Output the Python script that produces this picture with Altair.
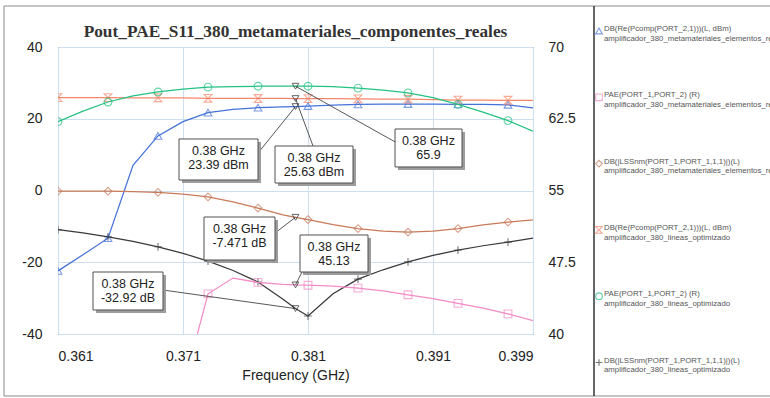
import altair as alt
import pandas as pd

# ---------------------------------------------------------------- data
FREQ = [0.361, 0.363, 0.365, 0.367, 0.369, 0.371, 0.373, 0.375, 0.377, 0.379,
        0.380, 0.381, 0.383, 0.385, 0.387, 0.389, 0.391, 0.393, 0.395, 0.397, 0.399]
MARKER_FREQ = [0.361, 0.365, 0.369, 0.373, 0.377, 0.381, 0.385, 0.389, 0.393, 0.397]

# Output power (dBm), metamaterial amplifier
POUT_META = [-22.4, -17.9, -13.3, 7.0, 15.2, 19.2, 21.7, 22.6, 23.1, 23.3,
             23.39, 23.55, 23.8, 24.0, 24.1, 24.1, 24.1, 24.0, 24.0, 23.9, 23.0]
# PAE (%), metamaterial amplifier
PAE_META = [None, None, None, None, None, 34.3, 44.2, 45.85, 45.4, 45.2,
            45.13, 45.1, 45.0, 44.8, 44.5, 44.1, 43.7, 43.2, 42.7, 42.1, 41.4]
# S11 (dB), metamaterial amplifier
S11_META = [-0.2, -0.2, -0.2, -0.3, -0.5, -1.0, -1.8, -3.2, -4.9, -6.8,
            -7.471, -8.1, -9.5, -10.6, -11.3, -11.6, -11.3, -10.6, -9.6, -8.8, -8.2]
# Output power (dBm), optimised-line amplifier
POUT_OPT = [25.9, 25.9, 25.9, 25.85, 25.85, 25.8, 25.7, 25.7, 25.65, 25.65,
            25.63, 25.6, 25.6, 25.55, 25.5, 25.45, 25.3, 25.2, 25.2, 25.15, 25.1]
# PAE (%), optimised-line amplifier
PAE_OPT = [62.2, 63.3, 64.25, 64.9, 65.3, 65.6, 65.8, 65.85, 65.9, 65.9,
           65.9, 65.9, 65.85, 65.7, 65.5, 65.2, 64.7, 64.0, 63.2, 62.3, 61.2]
# S11 (dB), optimised-line amplifier
S11_OPT = [-10.9, -11.8, -12.9, -14.2, -15.7, -17.5, -19.7, -22.3, -25.5, -30.3,
           -32.92, -35.0, -28.8, -24.7, -22.1, -19.9, -18.1, -16.6, -15.4, -14.4, -13.3]

SERIES = [
    "DB(Re(Pcomp(PORT_2,1)))(L, dBm)\namplificador_380_metamateriales_elementos_reales",
    "PAE(PORT_1,PORT_2) (R)\namplificador_380_metamateriales_elementos_reales",
    "DB(|LSSnm(PORT_1,PORT_1,1,1)|)(L)\namplificador_380_metamateriales_elementos_reales",
    "DB(Re(Pcomp(PORT_2,1)))(L, dBm)\namplificador_380_lineas_optimizado",
    "PAE(PORT_1,PORT_2) (R)\namplificador_380_lineas_optimizado",
    "DB(|LSSnm(PORT_1,PORT_1,1,1)|)(L)\namplificador_380_lineas_optimizado",
]
VALUES = [POUT_META, PAE_META, S11_META, POUT_OPT, PAE_OPT, S11_OPT]
SIDE = ["left", "right", "left", "left", "right", "left"]

COLORS = ["#4472d9", "#f48ac6", "#c87a5a", "#f6866a", "#24c282", "#3a3a3a"]
HOURGLASS = "M-1,-1L1,-1L-1,1L1,1Z"
CROSS = "M-1,0L1,0M0,-1L0,1"
SHAPES = ["triangle-up", "square", "diamond", HOURGLASS, "circle", CROSS]

X_TICKS = [0.361, 0.371, 0.381, 0.391, 0.399]
LEFT_TICKS = [-40, -20, 0, 20, 40]
RIGHT_TICKS = [40, 47.5, 55, 62.5, 70]

# Marker read-outs at 0.38 GHz: series index, value, unit
MARK_FREQ = 0.38
MARK_SERIES = [0, 3, 4, 2, 1, 5]
MARK_VALUE = [23.39, 25.63, 65.9, -7.471, 45.13, -32.92]
MARK_UNIT = ["dBm", "dBm", "", "dB", "", "dB"]
# Callout boxes in axis units: (left, right) frequency, (top, bottom) value
BOX_F = [(0.37068, 0.37700), (0.37836, 0.38460), (0.38796, 0.39332),
         (0.37268, 0.37836), (0.38036, 0.38580), (0.36380, 0.36940)]
BOX_V = [(14.36, 2.93), (12.40, 2.09), (61.43, 57.46),
         (-7.39, -19.37), (50.35, 46.48), (-22.72, -33.31)]
LEAD_FROM = [(0.37700, 10.45), (0.38140, 12.40), (0.38812, 59.97),
             (0.37836, -11.85), (0.38052, 46.48), (0.36940, -27.74)]

# ---------------------------------------------------------------- tables
rows = []
for name, side, vals in zip(SERIES, SIDE, VALUES):
    for f, v in zip(FREQ, vals):
        if v is not None:
            rows.append({"freq": f, "value": v, "series": name, "side": side})
df = pd.DataFrame(rows)
df_marks = df[df["freq"].isin(MARKER_FREQ)]

ann_rows = []
for i, s in enumerate(MARK_SERIES):
    v = MARK_VALUE[i]
    unit = (" " + MARK_UNIT[i]) if MARK_UNIT[i] else ""
    ann_rows.append({
        "freq": MARK_FREQ, "value": v, "side": SIDE[s],
        "label": f"{MARK_FREQ} GHz\n{v}{unit}",
        "bl": BOX_F[i][0], "br": BOX_F[i][1], "cx": (BOX_F[i][0] + BOX_F[i][1]) / 2,
        "bt": BOX_V[i][0], "bb": BOX_V[i][1],
        "lf": LEAD_FROM[i][0], "lv": LEAD_FROM[i][1],
    })
ann = pd.DataFrame(ann_rows)

# ---------------------------------------------------------------- encodings
FONT = "Liberation Sans"
x_scale = alt.Scale(domain=[0.361, 0.399], nice=False, zero=False)
x_axis = alt.Axis(values=X_TICKS, labelExpr="'' + datum.value", title="Frequency (GHz)",
                  grid=True, labelPadding=15, titlePadding=5, titleFontWeight="normal",
                  titleFontSize=14, titleFont=FONT, titleColor="#222")
left_scale = alt.Scale(domain=[-40, 40], nice=False, zero=False)
right_scale = alt.Scale(domain=[40, 70], nice=False, zero=False)
left_axis = alt.Axis(orient="left", values=LEFT_TICKS, labelExpr="'' + datum.value",
                     grid=True, labelPadding=16, title=None)
right_axis = alt.Axis(orient="right", values=RIGHT_TICKS, labelExpr="'' + datum.value",
                      grid=False, labelPadding=15, title=None)

color_scale = alt.Scale(domain=SERIES, range=COLORS)
shape_scale = alt.Scale(domain=SERIES, range=SHAPES)
legend = alt.Legend(orient="none", legendX=537, legendY=-20, title=None,
                    labelExpr="split(datum.label, '\\n')", labelFont=FONT,
                    labelFontSize=7.8, labelColor="#555555", labelLimit=400,
                    labelBaseline="alphabetic", labelOffset=1, symbolSize=45,
                    symbolStrokeWidth=1.1, rowPadding=48.3, padding=0)


def X(field="freq"):
    return alt.X(f"{field}:Q", scale=x_scale, axis=x_axis)


def series_group(side, yscale, yaxis):
    y = alt.Y("value:Q", scale=yscale, axis=yaxis)
    color = alt.Color("series:N", scale=color_scale, legend=legend)
    lines = alt.Chart(df[df["side"] == side]).mark_line(strokeWidth=1.25, clip=True).encode(
        x=X(), y=y, color=color,
    )
    points = alt.Chart(df_marks[df_marks["side"] == side]).mark_point(
        filled=False, size=60, strokeWidth=1.1, clip=True
    ).encode(
        x=X(), y=y, color=color,
        shape=alt.Shape("series:N", scale=shape_scale, legend=legend),
    )
    return alt.layer(lines, points)


def callouts(side, yscale):
    d = ann[ann["side"] == side]
    base = alt.Chart(d)
    leaders = base.mark_rule(color="#444444", strokeWidth=0.9).encode(
        x=X("lf"), y=alt.Y("lv:Q", scale=yscale, axis=None),
        x2="freq", y2="value")
    tips = base.mark_point(shape="triangle-down", filled=False, size=45,
                           color="#222222", strokeWidth=1).encode(
        x=X(), y=alt.Y("value:Q", scale=yscale, axis=None))
    shadow = base.mark_rect(color="#9c9c9c", xOffset=3, x2Offset=3,
                            yOffset=3, y2Offset=3).encode(
        x=X("bl"), x2="br", y=alt.Y("bt:Q", scale=yscale, axis=None), y2="bb")
    box = base.mark_rect(fill="white", stroke="#505050", strokeWidth=1).encode(
        x=X("bl"), x2="br", y=alt.Y("bt:Q", scale=yscale, axis=None), y2="bb")
    text = base.mark_text(align="center", baseline="top", dy=6, fontSize=12.5,
                          lineHeight=14, lineBreak="\n", font=FONT, color="#222222").encode(
        x=X("cx"), y=alt.Y("bt:Q", scale=yscale, axis=None), text="label:N")
    return alt.layer(leaders, tips, shadow, box, text)


# Outer panel frame and legend separator
frame_src = pd.DataFrame({"k": [0]})
frame = alt.Chart(frame_src).mark_rect(fillOpacity=0, stroke="#8a8a8a", strokeWidth=1).encode(
    x=alt.value(-54), x2=alt.value(720), y=alt.value(-41), y2=alt.value(349))
separator = alt.Chart(frame_src).mark_rule(color="#333333", strokeWidth=1.5).encode(
    x=alt.value(536), y=alt.value(-41), y2=alt.value(349))

chart = alt.layer(
    series_group("left", left_scale, left_axis),
    series_group("right", right_scale, right_axis),
    callouts("left", left_scale),
    callouts("right", right_scale),
    frame,
    separator,
).resolve_scale(
    y="independent"
).properties(
    width=475,
    height=287,
    padding={"left": 58, "top": 47, "right": 237, "bottom": 64},
    autosize=alt.AutoSizeParams(type="none"),
    background="white",
    title=alt.TitleParams(
        "Pout_PAE_S11_380_metamateriales_componentes_reales",
        font="Liberation Serif", fontSize=17.3, fontWeight="bold", color="#333333",
        anchor="middle", baseline="alphabetic", offset=0, dy=49,
    ),
).configure_view(
    stroke="#555555", strokeWidth=1
).configure_axis(
    labelFont=FONT, labelFontSize=14, labelColor="#222222",
    domain=False, ticks=False, gridColor="#cddff0", gridWidth=1,
)

chart.save("out.html", embed_options={"renderer": "svg", "actions": False})
